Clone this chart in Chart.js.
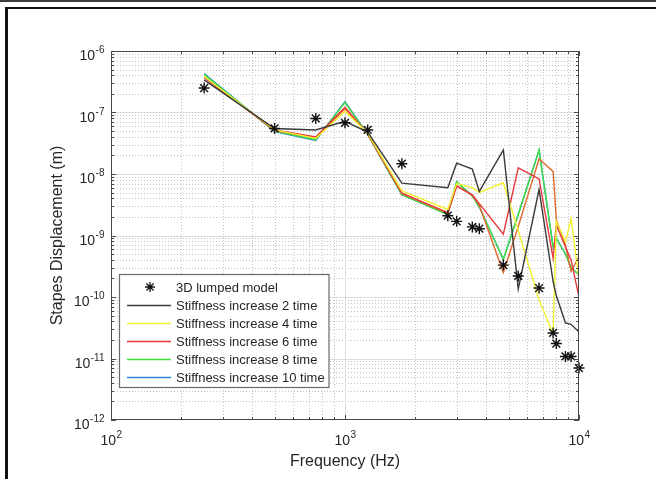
<!DOCTYPE html>
<html>
<head>
<meta charset="utf-8">
<script src="https://cdn.jsdelivr.net/npm/chart.js@4.4.1/dist/chart.umd.min.js"></script>
<style>
    html, body { margin: 0; padding: 0; background: #fff; }
    #wrap { position: relative; width: 656px; height: 479px; overflow: hidden; }
    #topbar { position: absolute; left: 0; top: 0; width: 656px; height: 2px; background: #3c3c3c; }
    #frame { position: absolute; left: 5px; top: 7px; width: 700px; height: 500px; border-left: 3px solid #111; border-top: 2px solid #111; }
    canvas { position: absolute; left: 0; top: 0; }
</style>
</head>
<body>
<div id="wrap">
    <div id="topbar"></div>
    <div id="frame"></div>
    <canvas id="chart" width="656" height="479"></canvas>
</div>
<script>
(function () {
    'use strict';

    var FONT = '"Liberation Sans", Arial, Helvetica, sans-serif';

    // frequencies (Hz) shared by every trace
    var freqs = [250, 500, 750, 1000, 1250, 1750, 2750, 3000, 3500, 3750, 4750, 5500, 6750, 7750, 8000, 8750, 9250, 10000];

    // stapes displacement (m)
    var lumped = [2.5e-7, 5.5e-8, 8.0e-8, 6.8e-8, 5.2e-8, 1.47e-8, 2.1e-9, 1.7e-9, 1.38e-9, 1.29e-9, 3.3e-10, 2.2e-10, 1.4e-10, 2.6e-11, 1.75e-11, 1.08e-11, 1.08e-11, 7.0e-12];
    var stiff2 = [3.4e-7, 5.5e-8, 5.2e-8, 7.2e-8, 4.8e-8, 7.1e-9, 6.0e-9, 1.5e-8, 1.2e-8, 5.2e-9, 2.46e-8, 1.35e-10, 5.6e-9, 1.8e-10, 1.05e-10, 3.8e-11, 3.6e-11, 2.7e-11];
    var stiff4 = [3.85e-7, 5.2e-8, 3.8e-8, 1.05e-7, 4.6e-8, 5.3e-9, 2.65e-9, 7.0e-9, 6.0e-9, 5.0e-9, 7.2e-9, 1.2e-9, 9.0e-11, 2.5e-11, 1.7e-9, 7.8e-10, 1.9e-9, 1.9e-10];
    var stiff6 = [3.7e-7, 5.2e-8, 4.0e-8, 1.22e-7, 4.5e-8, 4.9e-9, 2.35e-9, 6.3e-9, 4.6e-9, 3.3e-9, 1.05e-9, 1.26e-8, 8.3e-9, 4.3e-10, 1.5e-9, 6.5e-10, 4.0e-10, 1.0e-10];
    var stiff8 = [4.15e-7, 5.0e-8, 3.6e-8, 1.45e-7, 4.4e-8, 4.6e-9, 2.2e-9, 7.5e-9, 4.4e-9, 2.9e-9, 4.1e-10, 2.2e-9, 2.45e-8, 6.5e-10, 9.0e-10, 5.0e-10, 3.0e-10, 2.3e-10];
    var stiff10 = [4.3e-7, 4.9e-8, 3.5e-8, 1.5e-7, 4.4e-8, 4.6e-9, 2.2e-9, 7.5e-9, 4.4e-9, 2.9e-9, 4.1e-10, 2.2e-9, 2.45e-8, 6.5e-10, 9.0e-10, 5.0e-10, 3.0e-10, 2.3e-10];
    // orange trace in the picture that has no legend entry
    var extraTrace = [3.75e-7, 5.1e-8, 3.9e-8, 1.15e-7, 4.5e-8, 4.8e-9, 2.3e-9, 6.5e-9, 4.5e-9, 3.1e-9, 2.5e-10, 1.4e-9, 1.75e-8, 1.1e-8, 1.8e-9, 7.0e-10, 2.6e-10, 4.6e-10];

    var xTicks = [100, 1000, 10000];
    var xTickExp = ['2', '3', '4'];
    var yTicks = [1e-6, 1e-7, 1e-8, 1e-9, 1e-10, 1e-11, 1e-12];
    var yTickExp = ['-6', '-7', '-8', '-9', '-10', '-11', '-12'];

    var legendLabels = ['3D lumped model', 'Stiffness increase 2 time', 'Stiffness increase 4 time',
        'Stiffness increase 6 time', 'Stiffness increase 8 time', 'Stiffness increase 10 time'];

    function pts(values) {
        return freqs.map(function (f, i) { return {x: f, y: values[i]}; });
    }

    function line(label, values, color) {
        return {
            label: label,
            data: pts(values),
            borderColor: color,
            backgroundColor: color,
            borderWidth: 1.4,
            pointRadius: 0,
            tension: 0,
            fill: false
        };
    }

    var datasets = [
        {
            label: legendLabels[0],
            data: pts(lumped),
            showLine: false,
            pointStyle: 'star',
            pointRadius: 5.5,
            pointBorderWidth: 1.4,
            borderColor: '#111',
            backgroundColor: '#111',
            clip: false
        },
        line(legendLabels[1], stiff2, '#3a3a3a'),
        line(legendLabels[2], stiff4, '#f2f230'),
        line(legendLabels[3], stiff6, '#e6393c'),
        line('', extraTrace, '#df6a2c'),
        line(legendLabels[4], stiff8, '#3fe03f'),
        line(legendLabels[5], stiff10, '#2f86d6')
    ];
    // legend row -> dataset index
    var legendSets = [0, 1, 2, 3, 5, 6];

    function powLabel(ctx, exp, x, y, align) {
        ctx.font = '14px ' + FONT;
        var w1 = ctx.measureText('10').width;
        ctx.font = '10px ' + FONT;
        var w2 = ctx.measureText(exp).width;
        var left = align === 'right' ? x - w1 - w2 : x - (w1 + w2) / 2;
        ctx.font = '14px ' + FONT;
        ctx.fillText('10', left, y);
        ctx.font = '10px ' + FONT;
        ctx.fillText(exp, left + w1 + 0.5, y - 7);
    }

    function star(ctx, x, y, r) {
        ctx.beginPath();
        for (var k = 0; k < 4; k++) {
            var a = k * Math.PI / 4;
            ctx.moveTo(x - r * Math.cos(a), y - r * Math.sin(a));
            ctx.lineTo(x + r * Math.cos(a), y + r * Math.sin(a));
        }
        ctx.stroke();
    }

    var matlabAxes = {
        id: 'matlabAxes',
        beforeDatasetsDraw: function (chart) {
            var ctx = chart.ctx, a = chart.chartArea;
            var xs = chart.scales.x, ys = chart.scales.y;
            var d, k, p;
            ctx.save();
            ctx.lineWidth = 1;

            // minor grid, dotted
            ctx.setLineDash([1, 2]);
            ctx.strokeStyle = '#c2c2c2';
            ctx.beginPath();
            for (d = 2; d <= 3; d++) {
                for (k = 2; k <= 9; k++) {
                    p = Math.round(xs.getPixelForValue(k * Math.pow(10, d))) + 0.5;
                    ctx.moveTo(p, a.top);
                    ctx.lineTo(p, a.bottom);
                }
            }
            for (d = -12; d <= -7; d++) {
                for (k = 2; k <= 9; k++) {
                    p = Math.round(ys.getPixelForValue(k * Math.pow(10, d))) + 0.5;
                    ctx.moveTo(a.left, p);
                    ctx.lineTo(a.right, p);
                }
            }
            ctx.stroke();

            // major grid, solid
            ctx.setLineDash([]);
            ctx.strokeStyle = '#dcdcdc';
            ctx.beginPath();
            p = Math.round(xs.getPixelForValue(1000)) + 0.5;
            ctx.moveTo(p, a.top);
            ctx.lineTo(p, a.bottom);
            for (d = -11; d <= -7; d++) {
                p = Math.round(ys.getPixelForValue(Math.pow(10, d))) + 0.5;
                ctx.moveTo(a.left, p);
                ctx.lineTo(a.right, p);
            }
            ctx.stroke();
            ctx.restore();
        },
        afterDatasetsDraw: function (chart) {
            var ctx = chart.ctx, a = chart.chartArea;
            var xs = chart.scales.x, ys = chart.scales.y;
            var d, k, p, len, i;
            ctx.save();

            // box and inward ticks
            ctx.strokeStyle = '#4a4a4a';
            ctx.lineWidth = 1;
            ctx.strokeRect(a.left + 0.5, a.top + 0.5, a.right - a.left - 1, a.bottom - a.top - 1);
            ctx.beginPath();
            for (d = 2; d <= 4; d++) {
                for (k = 1; k <= 9; k++) {
                    if (d === 4 && k > 1) { break; }
                    p = Math.round(xs.getPixelForValue(k * Math.pow(10, d))) + 0.5;
                    len = k === 1 ? 5 : 3;
                    ctx.moveTo(p, a.bottom);
                    ctx.lineTo(p, a.bottom - len);
                    ctx.moveTo(p, a.top);
                    ctx.lineTo(p, a.top + len);
                }
            }
            for (d = -12; d <= -6; d++) {
                for (k = 1; k <= 9; k++) {
                    if (d === -6 && k > 1) { break; }
                    p = Math.round(ys.getPixelForValue(k * Math.pow(10, d))) + 0.5;
                    len = k === 1 ? 5 : 3;
                    ctx.moveTo(a.left, p);
                    ctx.lineTo(a.left + len, p);
                    ctx.moveTo(a.right, p);
                    ctx.lineTo(a.right - len, p);
                }
            }
            ctx.stroke();

            // tick labels
            ctx.fillStyle = '#262626';
            ctx.textAlign = 'left';
            ctx.textBaseline = 'alphabetic';
            xTicks.forEach(function (v, i) {
                powLabel(ctx, xTickExp[i], xs.getPixelForValue(v), a.bottom + 25, 'center');
            });
            yTicks.forEach(function (v, i) {
                powLabel(ctx, yTickExp[i], a.left - 7, ys.getPixelForValue(v) + 9, 'right');
            });

            // axis titles
            ctx.font = '16px ' + FONT;
            ctx.textAlign = 'center';
            ctx.fillText('Frequency (Hz)', (a.left + a.right) / 2, 466);
            ctx.save();
            ctx.translate(62, (a.top + a.bottom) / 2);
            ctx.rotate(-Math.PI / 2);
            ctx.fillText('Stapes Displacement (m)', 0, 0);
            ctx.restore();

            // legend box
            var bx = 119.5, by = 274.5, bw = 209.5, bh = 113;
            ctx.fillStyle = '#fff';
            ctx.fillRect(bx, by, bw, bh);
            ctx.strokeStyle = '#6a6a6a';
            ctx.lineWidth = 1.2;
            ctx.strokeRect(bx, by, bw, bh);
            ctx.font = '13px ' + FONT;
            ctx.textAlign = 'left';
            ctx.textBaseline = 'middle';
            for (i = 0; i < legendLabels.length; i++) {
                var ds = chart.data.datasets[legendSets[i]];
                var ry = 287 + i * 18;
                ctx.strokeStyle = ds.borderColor;
                if (i === 0) {
                    ctx.lineWidth = 1.3;
                    star(ctx, 150, ry, 5);
                } else {
                    ctx.lineWidth = 1.4;
                    ctx.beginPath();
                    ctx.moveTo(127, ry + 0.5);
                    ctx.lineTo(171, ry + 0.5);
                    ctx.stroke();
                }
                ctx.fillStyle = '#262626';
                ctx.fillText(legendLabels[i], 176, ry + 1);
            }
            ctx.restore();
        }
    };

    new Chart(document.getElementById('chart'), {
        type: 'line',
        data: {datasets: datasets},
        options: {
            responsive: false,
            animation: false,
            events: [],
            layout: {padding: {left: 111, top: 51, right: 77, bottom: 59}},
            plugins: {legend: {display: false}, tooltip: {enabled: false}},
            scales: {
                x: {type: 'logarithmic', min: 100, max: 10000, display: false},
                y: {type: 'logarithmic', min: 1e-12, max: 1e-6, display: false}
            }
        },
        plugins: [matlabAxes]
    });
})();
</script>
</body>
</html>
